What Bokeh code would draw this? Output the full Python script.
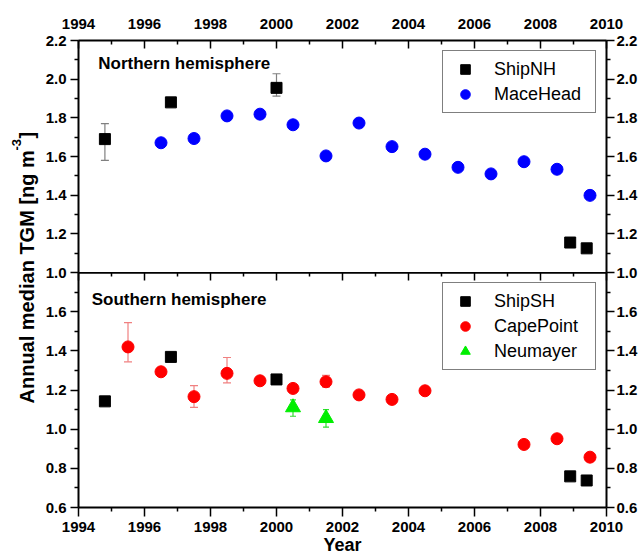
import math
from bokeh.plotting import figure
from bokeh.models import (Range1d, LinearAxis, FixedTicker,
                          NumeralTickFormatter, Whisker, TeeHead, ColumnDataSource, Label)
from bokeh.layouts import row, column
from bokeh.embed import file_html
from bokeh.resources import INLINE

# ---------------- data ----------------
ship_nh_year = [1994.8, 1996.8, 2000.0, 2008.9, 2009.4]
ship_nh_tgm = [1.69, 1.88, 1.955, 1.155, 1.125]
ship_nh_err_year = [1994.8, 2000.0]
ship_nh_err_low = [1.58, 1.912]
ship_nh_err_high = [1.77, 2.028]

mace_year = [1996.5, 1997.5, 1998.5, 1999.5, 2000.5, 2001.5, 2002.5,
             2003.5, 2004.5, 2005.5, 2006.5, 2007.5, 2008.5, 2009.5]
mace_tgm = [1.671, 1.693, 1.810, 1.819, 1.764, 1.603, 1.773,
            1.651, 1.612, 1.544, 1.510, 1.573, 1.534, 1.399]

ship_sh_year = [1994.8, 1996.8, 2000.0, 2008.9, 2009.4]
ship_sh_tgm = [1.142, 1.369, 1.254, 0.759, 0.738]

cape_year = [1995.5, 1996.5, 1997.5, 1998.5, 1999.5, 2000.5, 2001.5,
             2002.5, 2003.5, 2004.5, 2007.5, 2008.5, 2009.5]
cape_tgm = [1.420, 1.293, 1.166, 1.285, 1.247, 1.208, 1.242,
            1.175, 1.152, 1.196, 0.922, 0.951, 0.857]
cape_err_year = [1995.5, 1997.5, 1998.5, 2001.5]
cape_err_low = [1.344, 1.111, 1.236, 1.215]
cape_err_high = [1.544, 1.222, 1.366, 1.275]

neu_year = [2000.5, 2001.5]
neu_tgm = [1.111, 1.056]
neu_err_low = [1.066, 1.010]
neu_err_high = [1.150, 1.100]

year_major = [1994, 1996, 1998, 2000, 2002, 2004, 2006, 2008, 2010]
year_minor = [1995, 1997, 1999, 2001, 2003, 2005, 2007, 2009]
top_y_ticks = [1.0, 1.2, 1.4, 1.6, 1.8, 2.0, 2.2]
top_y_minor = [1.1, 1.3, 1.5, 1.7, 1.9, 2.1]
bot_y_ticks = [0.6, 0.8, 1.0, 1.2, 1.4, 1.6]
bot_y_minor = [0.7, 0.9, 1.1, 1.3, 1.5, 1.7]

FONT = "Liberation Sans"
TICK_FS = "15px"
OVERLAP = 9

xr = Range1d(1994, 2010)


def style_axis(ax, tick_in=0, tick_out=8, standoff=4):
    ax.axis_line_width = 2
    ax.axis_line_color = "black"
    ax.major_tick_line_width = 1.5
    ax.minor_tick_line_width = 1.5
    ax.major_tick_in = tick_in
    ax.major_tick_out = tick_out
    ax.minor_tick_in = tick_in // 2
    ax.minor_tick_out = tick_out // 2
    ax.major_label_standoff = standoff
    ax.major_label_text_font = FONT
    ax.major_label_text_font_style = "bold"
    ax.major_label_text_color = "black"
    ax.major_label_text_font_size = TICK_FS


def make_fig(height, yr, border_top, border_bottom, xloc, **kw):
    p = figure(width=601, height=height, x_range=xr, y_range=yr,
               x_axis_location=xloc, toolbar_location=None, output_backend="svg",
               min_border_left=38, min_border_right=35,
               min_border_top=border_top, min_border_bottom=border_bottom, **kw)
    p.grid.visible = False
    p.outline_line_color = None
    return p


# ---------------- top panel ----------------
top = make_fig(272 + OVERLAP, Range1d(1.0, 2.2), 40, OVERLAP, "above",
               styles={"margin-bottom": f"-{OVERLAP}px"})
top.background_fill_color = "white"
top.border_fill_color = "white"
top.xaxis.ticker = FixedTicker(ticks=year_major, minor_ticks=year_minor)
style_axis(top.xaxis[0], tick_in=8, tick_out=0, standoff=12)
top.yaxis.ticker = FixedTicker(ticks=top_y_ticks, minor_ticks=top_y_minor)
top.yaxis.formatter = NumeralTickFormatter(format="0.0")
style_axis(top.yaxis[0], standoff=4)
r_ax = LinearAxis(ticker=FixedTicker(ticks=top_y_ticks, minor_ticks=top_y_minor),
                  formatter=NumeralTickFormatter(format="0.0"))
style_axis(r_ax, standoff=2)
top.add_layout(r_ax, "right")

src_nh_err = ColumnDataSource(dict(x=ship_nh_err_year, lo=ship_nh_err_low, hi=ship_nh_err_high))
w1 = Whisker(base="x", lower="lo", upper="hi", source=src_nh_err, dimension="height",
             line_color="#808080", line_width=1.2, level="underlay",
             upper_head=TeeHead(size=8, line_color="#808080", line_width=1.2),
             lower_head=TeeHead(size=8, line_color="#808080", line_width=1.2))
top.add_layout(w1)

top.scatter(ship_nh_year, ship_nh_tgm, marker="square", size=11, color="black",
            legend_label="ShipNH")
top.scatter(mace_year, mace_tgm, marker="circle", size=12, color="#0000ff",
            legend_label="MaceHead")

top.add_layout(Label(x=1994.6, y=2.03, text="Northern hemisphere", text_font=FONT,
                     text_font_style="bold", text_font_size="17px", text_color="black"))

# ---------------- bottom panel ----------------
bot = make_fig(288, Range1d(0.6, 1.8), 0, 53, "below")
bot.background_fill_color = None
bot.border_fill_color = None
bot.xaxis.ticker = FixedTicker(ticks=year_major, minor_ticks=year_minor)
style_axis(bot.xaxis[0], tick_in=0, tick_out=9, standoff=5)
bot.xaxis.axis_label = "Year"
bot.xaxis.axis_label_standoff = 0
bot.xaxis.axis_label_text_font = FONT
bot.xaxis.axis_label_text_font_style = "bold"
bot.xaxis.axis_label_text_font_size = "18px"
bot.xaxis.axis_label_text_color = "black"
bot.yaxis.ticker = FixedTicker(ticks=bot_y_ticks, minor_ticks=bot_y_minor)
bot.yaxis.formatter = NumeralTickFormatter(format="0.0")
style_axis(bot.yaxis[0], standoff=4)
r_ax2 = LinearAxis(ticker=FixedTicker(ticks=bot_y_ticks, minor_ticks=bot_y_minor),
                   formatter=NumeralTickFormatter(format="0.0"))
style_axis(r_ax2, standoff=2)
bot.add_layout(r_ax2, "right")

# inward ticks along the shared boundary (no labels: only minor tick lists)
a_ax1 = LinearAxis(ticker=FixedTicker(ticks=[], minor_ticks=year_major))
a_ax1.axis_line_width = 2
a_ax1.minor_tick_in = 8
a_ax1.minor_tick_out = 0
a_ax1.minor_tick_line_width = 1.5
a_ax1.major_label_standoff = 0
bot.add_layout(a_ax1, "above")
a_ax2 = LinearAxis(ticker=FixedTicker(ticks=[], minor_ticks=year_minor))
a_ax2.axis_line_width = 2
a_ax2.minor_tick_in = 4
a_ax2.minor_tick_out = 0
a_ax2.minor_tick_line_width = 1.5
a_ax2.major_label_standoff = 0
bot.add_layout(a_ax2, "above")

src_cape_err = ColumnDataSource(dict(x=cape_err_year, lo=cape_err_low, hi=cape_err_high))
w2 = Whisker(base="x", lower="lo", upper="hi", source=src_cape_err, dimension="height",
             line_color="#f08080", line_width=1.2, level="underlay",
             upper_head=TeeHead(size=8, line_color="#f08080", line_width=1.2),
             lower_head=TeeHead(size=8, line_color="#f08080", line_width=1.2))
bot.add_layout(w2)
src_neu_err = ColumnDataSource(dict(x=neu_year, lo=neu_err_low, hi=neu_err_high))
w3 = Whisker(base="x", lower="lo", upper="hi", source=src_neu_err, dimension="height",
             line_color="#33dd33", line_width=1.2, level="underlay",
             upper_head=TeeHead(size=6, line_color="#33dd33", line_width=1.2),
             lower_head=TeeHead(size=6, line_color="#33dd33", line_width=1.2))
bot.add_layout(w3)

bot.scatter(ship_sh_year, ship_sh_tgm, marker="square", size=11, color="black",
            legend_label="ShipSH")
bot.scatter(cape_year, cape_tgm, marker="circle", size=12, color="#ff0000",
            legend_label="CapePoint")
bot.scatter(neu_year, neu_tgm, marker="triangle", size=15, color="#00ee00",
            legend_label="Neumayer")

bot.add_layout(Label(x=1994.4, y=1.615, text="Southern hemisphere", text_font=FONT,
                     text_font_style="bold", text_font_size="17px", text_color="black"))

for p in (top, bot):
    lg = p.legend[0]
    lg.location = "top_right"
    lg.margin = 10
    lg.border_line_color = "black"
    lg.border_line_width = 1.2
    lg.background_fill_color = "white"
    lg.background_fill_alpha = 1.0
    lg.label_text_font = FONT
    lg.label_text_font_size = "18px"
    lg.label_text_color = "black"
    lg.glyph_width = 32
    lg.glyph_height = 24
    lg.label_height = 24
    lg.label_width = 95
    lg.label_standoff = 13
    lg.spacing = 1
    lg.padding = 6

# ---------------- y-axis title column ----------------
lab = figure(width=40, height=560, x_range=Range1d(0, 40), y_range=Range1d(0, 560),
             toolbar_location=None, output_backend="svg", x_axis_type=None,
             y_axis_type=None, min_border=0)
lab.grid.visible = False
lab.outline_line_color = None
half_pi = math.pi / 2
lab.add_layout(Label(x=26, y=157, text="Annual median TGM [ng m", angle=half_pi,
                     text_align="left", text_baseline="middle", text_font=FONT,
                     text_font_style="bold", text_font_size="20px", text_color="black"))
lab.add_layout(Label(x=16, y=410, text="-3", angle=half_pi,
                     text_align="left", text_baseline="middle", text_font=FONT,
                     text_font_style="bold", text_font_size="13px", text_color="black"))
lab.add_layout(Label(x=26, y=422, text="]", angle=half_pi,
                     text_align="left", text_baseline="middle", text_font=FONT,
                     text_font_style="bold", text_font_size="20px", text_color="black"))

layout = row(lab, column(top, bot, spacing=0), spacing=0)

open("out.html", "w").write(file_html(layout, INLINE))
